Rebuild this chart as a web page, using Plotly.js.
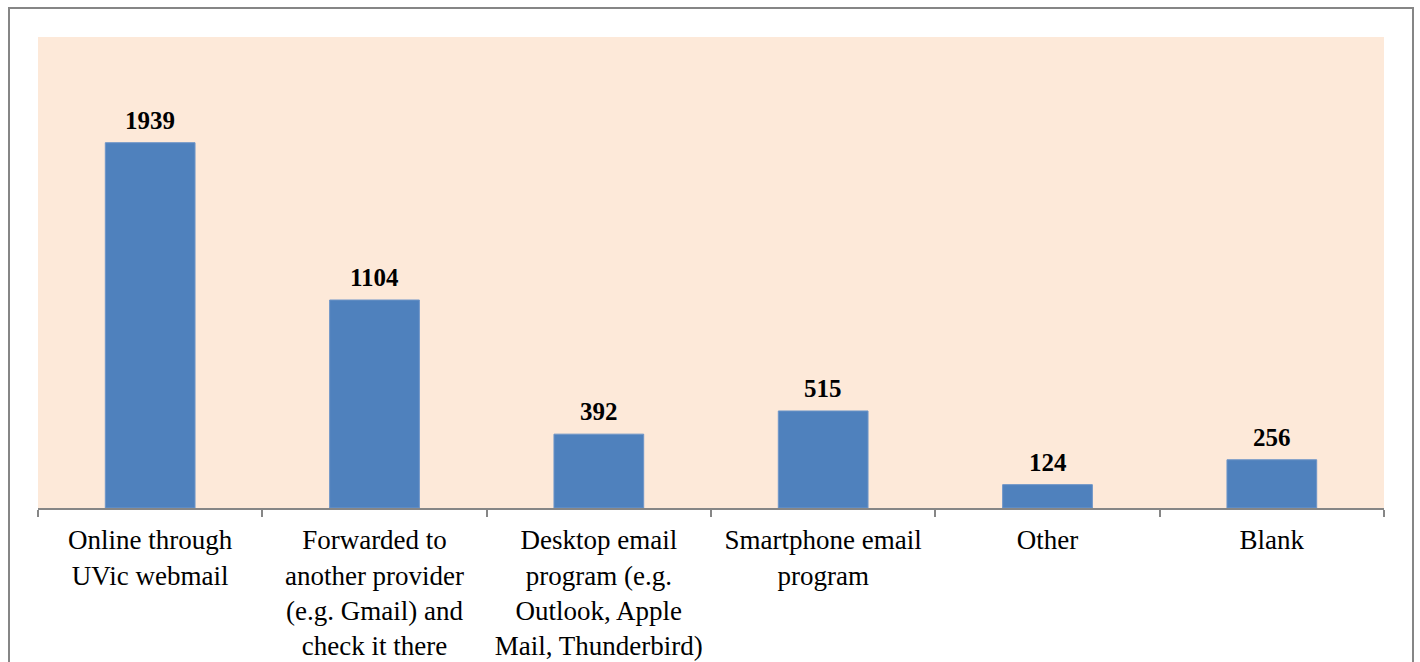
<!DOCTYPE html>
<html>
<head>
<meta charset="utf-8">
<script src="https://cdn.plot.ly/plotly-3.0.1.min.js"></script>
<style>html,body{margin:0;padding:0;background:#fff;}#chart{width:1420px;height:662px;}</style>
</head>
<body>
<div id="chart"></div>
<script>
var categories = [
  "Online through<br>UVic webmail",
  "Forwarded to<br>another provider<br>(e.g. Gmail) and<br>check it there",
  "Desktop email<br>program (e.g.<br>Outlook, Apple<br>Mail, Thunderbird)",
  "Smartphone email<br>program",
  "Other",
  "Blank"
];
var counts = [1939, 1104, 392, 515, 124, 256];

var W = 1420, H = 662;
var mL = 38, mR = 36, mT = 37, mB = 153.5;
var pw = W - mL - mR, ph = H - mT - mB;
function px(x){ return (x - mL) / pw; }
function py(y){ return (H - mB - y) / ph; }

var trace = {
  type: 'bar',
  x: categories,
  y: counts,
  marker: {color: '#4F81BD', line: {color: '#6E95C8', width: 1}},
  hoverinfo: 'none'
};

var annotations = categories.map(function(c, i){
  return {
    x: c, y: counts[i], xref: 'x', yref: 'y',
    text: '<b>' + counts[i] + '</b>',
    showarrow: false, yanchor: 'bottom', yshift: 7,
    font: {family: 'Liberation Serif', size: 25, color: '#000'}
  };
});

var layout = {
  width: W, height: H,
  margin: {l: mL, r: mR, t: mT, b: mB, pad: 0},
  paper_bgcolor: '#ffffff',
  plot_bgcolor: '#FDE9D9',
  bargap: 0.6,
  showlegend: false,
  font: {family: 'Liberation Serif', size: 27, color: '#000'},
  xaxis: {
    showline: true, linecolor: '#868686', linewidth: 2,
    ticks: 'outside', tickson: 'boundaries', ticklen: 7, tickcolor: '#868686', tickwidth: 2,
    showgrid: false, zeroline: false,
    tickfont: {family: 'Liberation Serif', size: 27, color: '#000'},
    ticklabelstandoff: 7,
    fixedrange: true
  },
  yaxis: {
    range: [0, 2500], showgrid: false, zeroline: false, showline: false,
    showticklabels: false, ticks: '', fixedrange: true
  },
  annotations: annotations,
  shapes: [{
    type: 'rect', xref: 'paper', yref: 'paper',
    x0: px(9), x1: px(1413), y0: py(700), y1: py(8),
    line: {color: '#868686', width: 2}, fillcolor: 'rgba(0,0,0,0)', layer: 'below'
  }]
};

Plotly.newPlot('chart', [trace], layout, {displayModeBar: false, staticPlot: true});
</script>
</body>
</html>
